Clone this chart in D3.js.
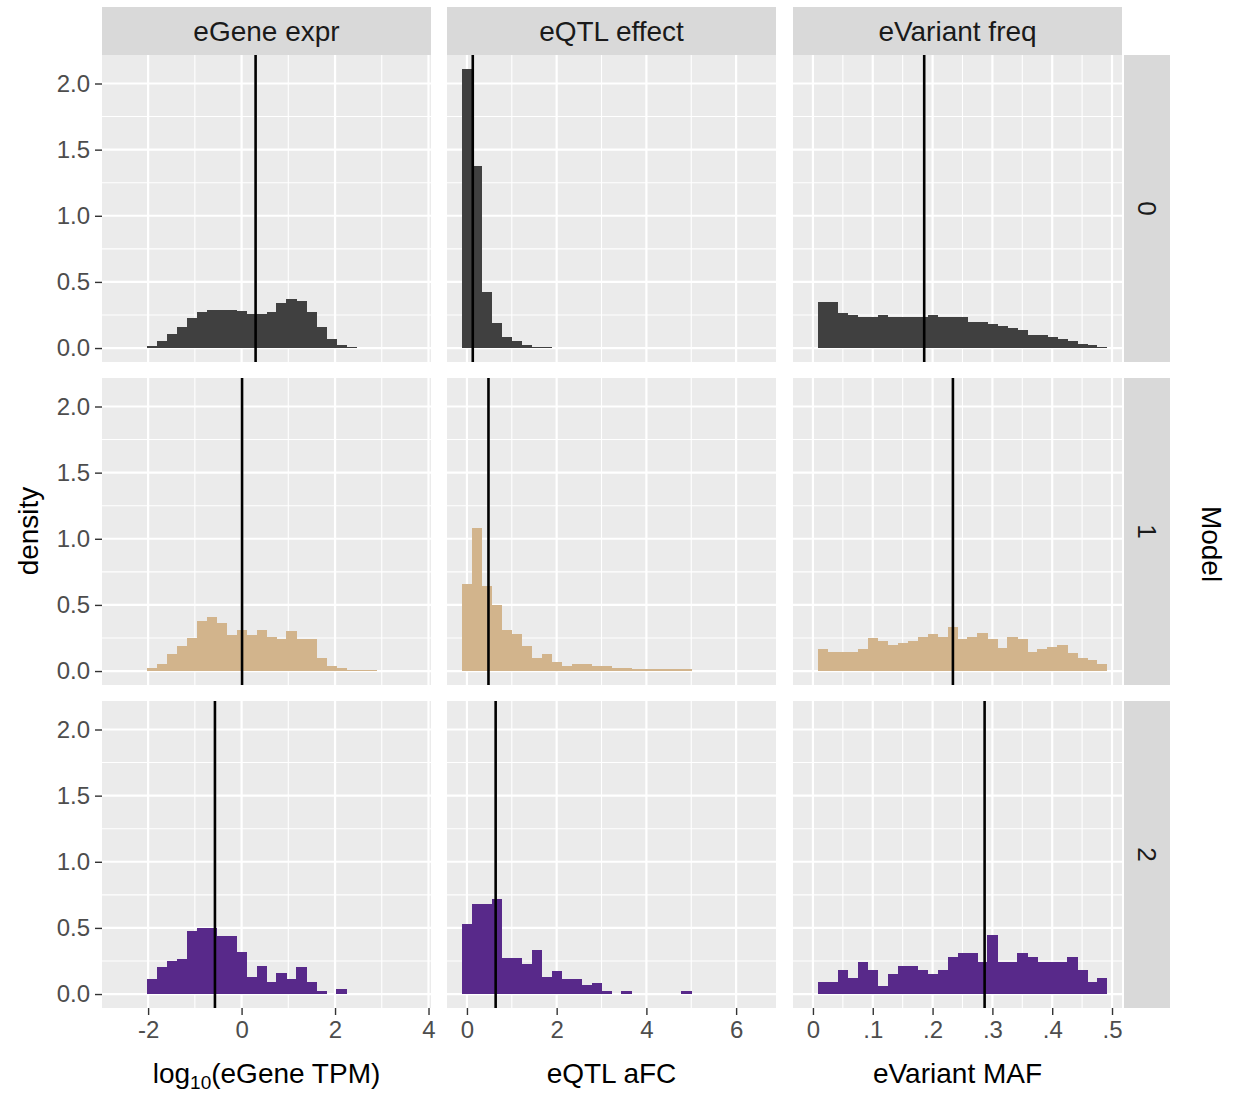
<!DOCTYPE html>
<html>
<head>
<meta charset="utf-8">
<script src="https://cdn.jsdelivr.net/npm/d3@7"></script>
<style>
  body { margin: 0; background: #fff; }
  text { font-family: "Liberation Sans", Arial, sans-serif; }
</style>
</head>
<body>
<svg id="chart" width="1238" height="1093"></svg>
<script>
// facet labels
const models = ["0", "1", "2"];
const facets = ["eGene expr", "eQTL effect", "eVariant freq"];
const modelColors = ["#404040", "#D2B48C", "#58298A"];

// histogram bins (30 bins per column, ggplot style)
const binStart = [-2.6667, -0.1111, -0.008333];
const binWidth = [0.21333, 0.22222, 0.016667];

// densities, per model; first value sits at bin index "offset"
const exprOffset = [3, 3, 3];
const exprDensity = [
  [0.013, 0.055, 0.105, 0.16, 0.225, 0.27, 0.29, 0.29, 0.29, 0.277, 0.26, 0.26, 0.27, 0.34, 0.37, 0.355, 0.27, 0.16, 0.07, 0.025, 0.01],
  [0.02, 0.055, 0.13, 0.19, 0.25, 0.38, 0.41, 0.365, 0.27, 0.31, 0.27, 0.31, 0.26, 0.24, 0.30, 0.24, 0.24, 0.10, 0.038, 0.02, 0.01, 0.01, 0.01],
  [0.113, 0.206, 0.25, 0.267, 0.48, 0.50, 0.50, 0.44, 0.44, 0.32, 0.13, 0.21, 0.088, 0.16, 0.113, 0.206, 0.088, 0.025, 0, 0.038]
];
const afcOffset = [0, 0, 0];
const afcDensity = [
  [2.11, 1.38, 0.42, 0.19, 0.083, 0.05, 0.02, 0.008, 0.008],
  [0.66, 1.08, 0.64, 0.50, 0.31, 0.28, 0.19, 0.10, 0.13, 0.07, 0.038, 0.055, 0.055, 0.038, 0.038, 0.025, 0.025, 0.013, 0.013, 0.013, 0.013, 0.013, 0.013],
  [0.533, 0.684, 0.684, 0.717, 0.27, 0.27, 0.226, 0.33, 0.126, 0.176, 0.113, 0.113, 0.068, 0.08, 0.025, 0, 0.025, 0, 0, 0, 0, 0, 0.025]
];
const mafOffset = [1, 1, 1];
const mafDensity = [
  [0.347, 0.347, 0.267, 0.25, 0.234, 0.234, 0.25, 0.234, 0.234, 0.234, 0.234, 0.25, 0.234, 0.234, 0.234, 0.20, 0.20, 0.184, 0.166, 0.15, 0.133, 0.10, 0.10, 0.083, 0.065, 0.05, 0.033, 0.02, 0.008],
  [0.164, 0.146, 0.146, 0.146, 0.164, 0.25, 0.226, 0.20, 0.214, 0.23, 0.257, 0.277, 0.257, 0.33, 0.24, 0.257, 0.29, 0.24, 0.176, 0.257, 0.246, 0.146, 0.164, 0.18, 0.196, 0.138, 0.10, 0.08, 0.055],
  [0.093, 0.093, 0.18, 0.123, 0.244, 0.18, 0.06, 0.15, 0.21, 0.21, 0.18, 0.15, 0.18, 0.277, 0.307, 0.307, 0.244, 0.445, 0.244, 0.244, 0.307, 0.277, 0.244, 0.244, 0.244, 0.277, 0.18, 0.093, 0.123]
];

// vertical reference lines (per column, per model)
const exprLine = [0.30, 0.01, -0.57];
const afcLine = [0.13, 0.48, 0.64];
const mafLine = [0.186, 0.234, 0.287];

// axis ticks and titles
const xTicks = [[-2, 0, 2, 4], [0, 2, 4, 6], [0, 0.1, 0.2, 0.3, 0.4, 0.5]];
const xMinor = [[-1, 1, 3], [1, 3, 5], [0.05, 0.15, 0.25, 0.35, 0.45]];
const yTicks = [0, 0.5, 1.0, 1.5, 2.0];
const yMinor = [0.25, 0.75, 1.25, 1.75];
const xTitles = ["eQTL aFC", "eVariant MAF"];

const columns = [
  { density: exprDensity, offset: exprOffset, lines: exprLine },
  { density: afcDensity, offset: afcOffset, lines: afcLine },
  { density: mafDensity, offset: mafOffset, lines: mafLine }
];

// layout
const colX = [102, 447, 793];
const rowY = [55, 378, 701];
const panelW = 329, panelH = 307;
const stripH = 48;

const svg = d3.select("#chart");

// shared y scale (ggplot 5% expansion)
const yMax = d3.max(columns.flatMap(c => c.density.flat()));
const y = d3.scaleLinear().domain([-0.05 * yMax, 1.05 * yMax]).range([panelH, 0]);

// per-column x scales from bin extent
const xScales = columns.map((c, j) => {
  const lo = binStart[j], hi = binStart[j] + 30 * binWidth[j];
  const pad = 0.05 * (hi - lo);
  return d3.scaleLinear().domain([lo - pad, hi + pad]).range([0, panelW]);
});

const xFormat = [
  d => String(d).replace("−", "-"),
  d => String(d),
  d => d === 0 ? "0" : d3.format(".1f")(d).replace(/^0/, "")
];

columns.forEach((col, j) => {
  const x = xScales[j];
  models.forEach((m, i) => {
    const g = svg.append("g").attr("transform", `translate(${colX[j]},${rowY[i]})`);
    g.append("rect").attr("width", panelW).attr("height", panelH).attr("fill", "#EBEBEB");

    // minor grid
    g.selectAll(".ymin").data(yMinor).enter().append("line")
      .attr("x1", 0).attr("x2", panelW).attr("y1", d => y(d)).attr("y2", d => y(d))
      .attr("stroke", "#fff").attr("stroke-width", 1.1);
    g.selectAll(".xmin").data(xMinor[j]).enter().append("line")
      .attr("y1", 0).attr("y2", panelH).attr("x1", d => x(d)).attr("x2", d => x(d))
      .attr("stroke", "#fff").attr("stroke-width", 1.1);
    // major grid
    g.selectAll(".ymaj").data(yTicks).enter().append("line")
      .attr("x1", 0).attr("x2", panelW).attr("y1", d => y(d)).attr("y2", d => y(d))
      .attr("stroke", "#fff").attr("stroke-width", 2.2);
    g.selectAll(".xmaj").data(xTicks[j]).enter().append("line")
      .attr("y1", 0).attr("y2", panelH).attr("x1", d => x(d)).attr("x2", d => x(d))
      .attr("stroke", "#fff").attr("stroke-width", 2.2);

    // histogram bars
    const bins = col.density[i].map((v, k) => {
      const idx = col.offset[i] + k;
      return { x0: binStart[j] + idx * binWidth[j], x1: binStart[j] + (idx + 1) * binWidth[j], v };
    }).filter(b => b.v > 0);
    g.selectAll(".bar").data(bins).enter().append("rect")
      .attr("x", d => x(d.x0))
      .attr("width", d => x(d.x1) - x(d.x0) + 0.4)
      .attr("y", d => y(d.v))
      .attr("height", d => y(0) - y(d.v))
      .attr("fill", modelColors[i])
      .attr("shape-rendering", "crispEdges");

    // vertical line
    g.append("line")
      .attr("x1", x(col.lines[i])).attr("x2", x(col.lines[i]))
      .attr("y1", 0).attr("y2", panelH)
      .attr("stroke", "#000").attr("stroke-width", 2.6);

    // y axis on first column
    if (j === 0) {
      const ya = g.append("g").call(d3.axisLeft(y).tickValues(yTicks)
        .tickFormat(d3.format(".1f")).tickSize(7).tickPadding(5));
      ya.select(".domain").remove();
      ya.selectAll("line").attr("stroke", "#333").attr("stroke-width", 1.4);
      ya.selectAll("text").attr("fill", "#4D4D4D").attr("font-size", 24)
        .style("font-family", "'Liberation Sans', Arial, sans-serif");
    }
    // x axis on bottom row
    if (i === 2) {
      const xa = g.append("g").attr("transform", `translate(0,${panelH})`)
        .call(d3.axisBottom(x).tickValues(xTicks[j]).tickFormat(xFormat[j]).tickSize(7).tickPadding(6));
      xa.select(".domain").remove();
      xa.selectAll("line").attr("stroke", "#333").attr("stroke-width", 1.4);
      xa.selectAll("text").attr("fill", "#4D4D4D").attr("font-size", 24)
        .style("font-family", "'Liberation Sans', Arial, sans-serif");
    }
  });

  // top strip
  svg.append("rect").attr("x", colX[j]).attr("y", rowY[0] - stripH)
    .attr("width", panelW).attr("height", stripH).attr("fill", "#D9D9D9");
  svg.append("text").attr("x", colX[j] + panelW / 2).attr("y", rowY[0] - stripH / 2)
    .attr("text-anchor", "middle").attr("dominant-baseline", "central")
    .attr("font-size", 28).attr("fill", "#1A1A1A").text(facets[j]);
});

// right strips
const stripX = colX[2] + panelW + 2;
models.forEach((m, i) => {
  svg.append("rect").attr("x", stripX).attr("y", rowY[i])
    .attr("width", stripH - 2).attr("height", panelH).attr("fill", "#D9D9D9");
  svg.append("text")
    .attr("transform", `translate(${stripX + (stripH - 2) / 2},${rowY[i] + panelH / 2}) rotate(90)`)
    .attr("text-anchor", "middle").attr("dominant-baseline", "central")
    .attr("font-size", 26).attr("fill", "#1A1A1A").text(m);
});

// axis titles
const titleY = 1083;
const t0 = svg.append("text").attr("x", colX[0] + panelW / 2).attr("y", titleY)
  .attr("text-anchor", "middle").attr("font-size", 28).attr("fill", "#000");
t0.append("tspan").text("log");
t0.append("tspan").attr("font-size", 19).attr("dy", 6).text("10");
t0.append("tspan").attr("dy", -6).text("(eGene TPM)");
xTitles.forEach((t, k) => {
  svg.append("text").attr("x", colX[k + 1] + panelW / 2).attr("y", titleY)
    .attr("text-anchor", "middle").attr("font-size", 28).attr("fill", "#000").text(t);
});
svg.append("text").attr("transform", `translate(28,531) rotate(-90)`)
  .attr("text-anchor", "middle").attr("dominant-baseline", "central")
  .attr("font-size", 28).attr("fill", "#000").text("density");
svg.append("text").attr("transform", `translate(1211,544) rotate(90)`)
  .attr("text-anchor", "middle").attr("dominant-baseline", "central")
  .attr("font-size", 28).attr("fill", "#000").text("Model");
</script>
</body>
</html>
